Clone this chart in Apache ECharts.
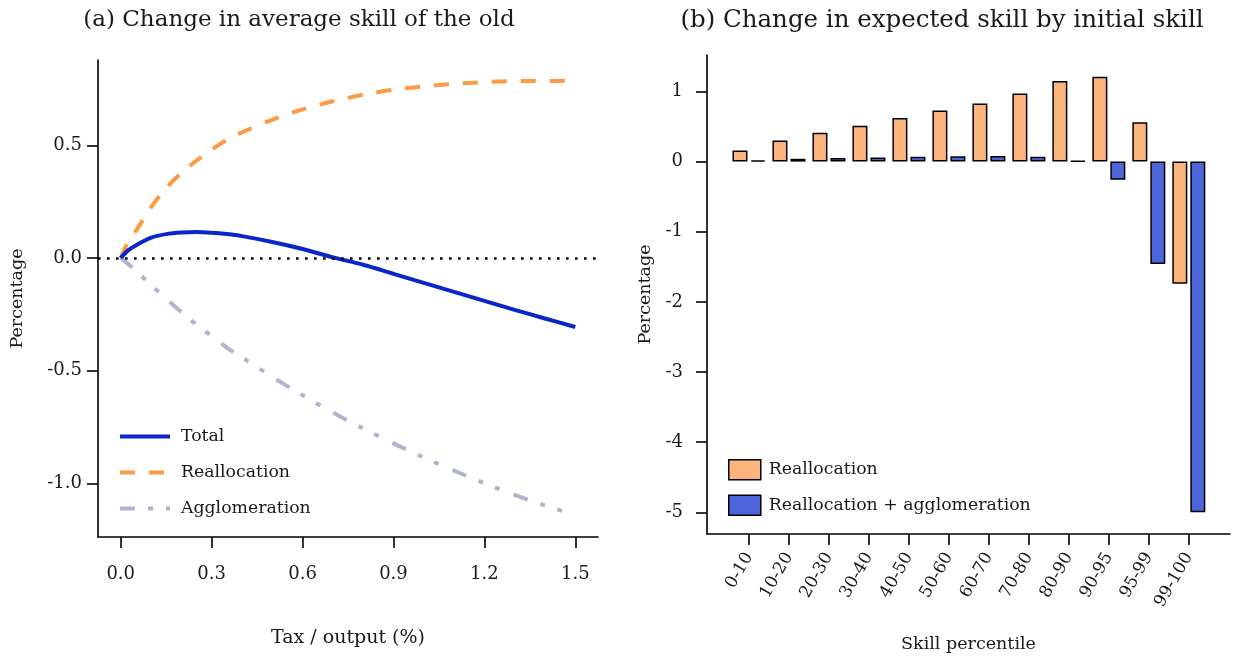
<!DOCTYPE html>
<html>
<head>
<meta charset="utf-8">
<script src="https://cdn.jsdelivr.net/npm/echarts@6/dist/echarts.min.js"></script>
<style>
html,body{margin:0;padding:0;background:#fff;}
#main{width:1233px;height:660px;}
</style>
</head>
<body>
<div id="main"></div>
<script>
// ---- Panel (a) data ----
const taxX     = [0, 0.025, 0.05, 0.1, 0.15, 0.2, 0.25, 0.3, 0.35, 0.4, 0.5, 0.6, 0.7, 0.8, 0.9, 1.0, 1.1, 1.2, 1.3, 1.4, 1.5];
const totalVal = [0, 0.035, 0.056, 0.090, 0.106, 0.113, 0.115, 0.112, 0.106, 0.097, 0.071, 0.040, 0.003, -0.030, -0.070, -0.110, -0.150, -0.190, -0.230, -0.268, -0.306];
const reallocVal = [0, 0.075, 0.120, 0.225, 0.310, 0.377, 0.432, 0.480, 0.524, 0.557, 0.613, 0.659, 0.695, 0.724, 0.746, 0.761, 0.772, 0.780, 0.784, 0.785, 0.786];
const agglomVal  = [0, -0.027, -0.056, -0.120, -0.180, -0.240, -0.295, -0.345, -0.397, -0.440, -0.527, -0.608, -0.685, -0.756, -0.822, -0.884, -0.943, -0.998, -1.050, -1.097, -1.140];
const aXTicks = [0, 0.3, 0.6, 0.9, 1.2, 1.5];
const aYTicks = [-1.0, -0.5, 0.0, 0.5];

// ---- Panel (b) data ----
const skillCats  = ['0-10','10-20','20-30','30-40','40-50','50-60','60-70','70-80','80-90','90-95','95-99','99-100'];
const barRealloc = [0.157, 0.30, 0.41, 0.51, 0.62, 0.73, 0.83, 0.97, 1.15, 1.21, 0.56, -1.74];
const barBoth    = [0.02, 0.04, 0.05, 0.06, 0.07, 0.075, 0.08, 0.07, 0.01, -0.26, -1.46, -5.0];
const bYTicks = [-5, -4, -3, -2, -1, 0, 1];

const FONT = 'DejaVu Serif';
const TXT = '#1a1a1a';
const TICK_FS = 18;
const chart = echarts.init(document.getElementById('main'), null, {renderer: 'canvas'});

const axisLineStyle = {color: '#000', width: 1.6};
const tickStyle = {color: '#000', width: 1.6};

const option = {
  backgroundColor: '#fff',
  animation: false,
  textStyle: {fontFamily: FONT, color: TXT},
  title: [
    {text: '(a) Change in average skill of the old', left: 294, top: 4, textAlign: 'center',
     textStyle: {fontFamily: FONT, fontSize: 23, fontWeight: 'normal', color: TXT}},
    {text: '(b) Change in expected skill by initial skill', left: 937, top: 3, textAlign: 'center',
     textStyle: {fontFamily: FONT, fontSize: 24.5, fontWeight: 'normal', color: TXT}}
  ],
  grid: [
    {left: 98, top: 60, width: 500, height: 477},
    {left: 707, top: 55, width: 523, height: 479}
  ],
  xAxis: [
    {type: 'value', gridIndex: 0, min: -0.075, max: 1.575,
     name: 'Tax / output (%)', nameLocation: 'middle', nameGap: 92,
     nameTextStyle: {fontFamily: FONT, fontSize: 19, color: TXT},
     axisLine: {show: true, onZero: false, lineStyle: axisLineStyle},
     axisTick: {show: true, length: 11, lineStyle: tickStyle, customValues: aXTicks},
     axisLabel: {show: true, margin: 28, fontFamily: FONT, fontSize: TICK_FS, color: TXT,
                 customValues: aXTicks, formatter: v => v.toFixed(1)},
     splitLine: {show: false}},
    {type: 'value', gridIndex: 1, min: -1.05, max: 12.03,
     name: 'Skill percentile', nameLocation: 'middle', nameGap: 101,
     nameTextStyle: {fontFamily: FONT, fontSize: 17.5, color: TXT},
     axisLine: {show: true, onZero: false, lineStyle: axisLineStyle},
     axisTick: {show: true, length: 11, lineStyle: tickStyle, customValues: skillCats.map((c, i) => i)},
     axisLabel: {show: true, margin: 20, rotate: 60, fontFamily: FONT, fontSize: 17, color: TXT,
                 customValues: skillCats.map((c, i) => i), formatter: v => skillCats[Math.round(v)] || ''},
     splitLine: {show: false}}
  ],
  yAxis: [
    {type: 'value', gridIndex: 0, min: -1.237, max: 0.878,
     name: 'Percentage', nameLocation: 'middle', nameGap: 72,
     nameTextStyle: {fontFamily: FONT, fontSize: 17.5, color: TXT},
     axisLine: {show: true, onZero: false, lineStyle: axisLineStyle},
     axisTick: {show: true, length: 11, lineStyle: tickStyle, customValues: aYTicks},
     axisLabel: {show: true, margin: 16, fontFamily: FONT, fontSize: TICK_FS, color: TXT,
                 customValues: aYTicks, formatter: v => v.toFixed(1)},
     splitLine: {show: false}},
    {type: 'value', gridIndex: 1, min: -5.31, max: 1.52,
     name: 'Percentage', nameLocation: 'middle', nameGap: 53,
     nameTextStyle: {fontFamily: FONT, fontSize: 17.5, color: TXT},
     axisLine: {show: true, onZero: false, lineStyle: axisLineStyle},
     axisTick: {show: true, length: 11, lineStyle: tickStyle, customValues: bYTicks},
     axisLabel: {show: true, margin: 24, fontFamily: FONT, fontSize: TICK_FS, color: TXT,
                 customValues: bYTicks, formatter: v => String(Math.round(v))},
     splitLine: {show: false}}
  ],
  legend: [
    {orient: 'vertical', left: 118, top: 428, padding: 0, itemWidth: 50, itemHeight: 18, itemGap: 19,
     data: ['Total', 'Reallocation', 'Agglomeration'],
     itemStyle: {opacity: 0},
     lineStyle: {width: 4},
     textStyle: {fontFamily: FONT, fontSize: 17.3, color: TXT, padding: [0, 0, 0, 6]}},
    {orient: 'vertical', left: 728, top: 459, padding: 0, itemWidth: 32, itemHeight: 20, itemGap: 14,
     icon: 'rect',
     data: ['barRealloc', 'barBoth'],
     formatter: n => n === 'barRealloc' ? 'Reallocation' : 'Reallocation + agglomeration',
     itemStyle: {borderColor: '#000', borderWidth: 1.5},
     textStyle: {fontFamily: FONT, fontSize: 17.3, color: TXT, padding: [0, 0, 0, 3]}}
  ],
  series: [
    {name: 'Agglomeration', type: 'line', xAxisIndex: 0, yAxisIndex: 0,
     data: taxX.map((x, i) => [x, agglomVal[i]]), smooth: 0.3, showSymbol: false, symbol: 'none',
     lineStyle: {color: '#adb4cc', width: 4, type: [15, 13, 5, 13, 5, 15], cap: 'butt'},
     itemStyle: {color: '#adb4cc'}, z: 2},
    {name: 'Reallocation', type: 'line', xAxisIndex: 0, yAxisIndex: 0,
     data: taxX.map((x, i) => [x, reallocVal[i]]), smooth: 0.3, showSymbol: false, symbol: 'none',
     lineStyle: {color: '#fd9a45', width: 4, type: [15, 14], cap: 'butt'},
     itemStyle: {color: '#fd9a45'}, z: 3},
    {name: 'Total', type: 'line', xAxisIndex: 0, yAxisIndex: 0,
     data: taxX.map((x, i) => [x, totalVal[i]]), smooth: 0.3, showSymbol: false, symbol: 'none',
     lineStyle: {color: '#0a25c8', width: 4},
     itemStyle: {color: '#0a25c8'}, z: 4,
     markLine: {silent: true, symbol: 'none', label: {show: false},
                lineStyle: {color: '#000', width: 2.6, type: [2.6, 6.4], cap: 'butt'},
                data: [{yAxis: 0}]}},
    {name: 'barRealloc', type: 'bar', xAxisIndex: 1, yAxisIndex: 1,
     data: skillCats.map((c, i) => [i, barRealloc[i]]), barWidth: 15, barGap: '20%',
     itemStyle: {color: '#fdb47d', borderColor: '#000', borderWidth: 1.5}},
    {name: 'barBoth', type: 'bar', xAxisIndex: 1, yAxisIndex: 1,
     data: skillCats.map((c, i) => [i, barBoth[i]]), barWidth: 15, barGap: '20%',
     itemStyle: {color: '#4d65db', borderColor: '#000', borderWidth: 1.5}}
  ]
};
chart.setOption(option);
</script>
</body>
</html>
